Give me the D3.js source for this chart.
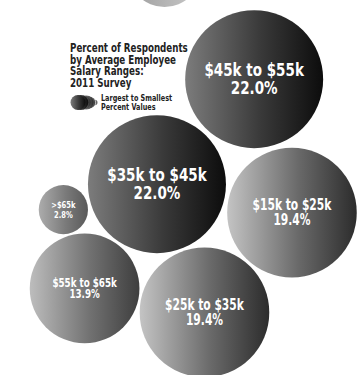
<!DOCTYPE html>
<html>
<head>
<meta charset="utf-8">
<script src="https://cdn.jsdelivr.net/npm/d3@7"></script>
<style>
  html, body { margin: 0; padding: 0; background: #fff; }
  svg { display: block; }
  text { font-family: "DejaVu Sans", sans-serif; font-weight: bold; }
</style>
</head>
<body>
<div id="chart"></div>
<script>
// Salary ranges and the share of respondents in each
const categories = ["Under $15k", "$45k to $55k", "$35k to $45k", "$15k to $25k", ">$65k", "$55k to $65k", "$25k to $35k"];
const percents   = [6.2, 22.0, 22.0, 19.4, 2.8, 13.9, 19.4];

const titleLines  = ["Percent of Respondents", "by Average Employee", "Salary Ranges:", "2011 Survey"];
const legendLines = ["Largest to Smallest", "Percent Values"];

// Bubble arrangement, in layout units (0..1 across and down the page)
const layout = [
  [0.457, -0.079], [0.706, 0.211], [0.436, 0.491], [0.811, 0.567],
  [0.176, 0.559], [0.235, 0.769], [0.568, 0.833]
];

const width = 360, height = 375;

const svg = d3.select("#chart").append("svg")
  .attr("width", width).attr("height", height);

const x = d3.scaleLinear().domain([0, 1]).range([0, width]);
const y = d3.scaleLinear().domain([0, 1]).range([0, height]);
const r = d3.scaleSqrt().domain([0, 22]).range([0, 69]);

// Shading: bigger shares get darker gradients
const leftShade  = d3.scaleLinear().domain([2.8, 6.2, 13.9, 19.4, 22]).range(["#acacac", "#9c9c9c", "#bdbdbd", "#c4c4c4", "#7c7c7c"]).clamp(true);
const rightShade = d3.scaleLinear().domain([2.8, 6.2, 13.9, 19.4, 22]).range(["#595959", "#c8c8c8", "#3e3e3e", "#2c2c2c", "#0c0c0c"]).clamp(true);

// Label type size, line spacing and horizontal compression by share
const fontSize = d3.scaleLinear().domain([2.8, 13.9, 19.4, 22]).range([9, 12.5, 15.5, 18]);
const lineGap  = d3.scaleLinear().domain([2.8, 13.9, 19.4, 22]).range([10, 11, 15, 18]);
const squeezeBy = d3.scaleLinear().domain([2.8, 13.9, 19.4, 22]).range([0.75, 0.70, 0.69, 0.75]);

const data = categories.map((c, i) => ({ name: c, value: percents[i], pos: layout[i], id: "g" + i }));

const defs = svg.append("defs");
data.forEach(d => {
  const g = defs.append("linearGradient").attr("id", d.id)
    .attr("x1", "0%").attr("x2", "100%").attr("y1", "0%").attr("y2", "0%");
  g.append("stop").attr("offset", "0%").attr("stop-color", leftShade(d.value));
  g.append("stop").attr("offset", "55%").attr("stop-color", d3.interpolateRgb(leftShade(d.value), rightShade(d.value))(0.6));
  g.append("stop").attr("offset", "100%").attr("stop-color", rightShade(d.value));
});

// Compress each text line horizontally around its anchor
function condense(sel, k) {
  sel.each(function() {
    const len = this.getComputedTextLength();
    d3.select(this).attr("textLength", len * k).attr("lengthAdjust", "spacingAndGlyphs");
  });
}

const bubbles = svg.append("g").selectAll("g.bubble").data(data).join("g")
  .attr("class", "bubble")
  .attr("transform", d => `translate(${x(d.pos[0])},${y(d.pos[1])})`);

bubbles.append("circle")
  .attr("r", d => r(d.value))
  .attr("fill", d => `url(#${d.id})`);

// Labels for the bubbles whose centre sits on the page
const labelled = bubbles.filter(d => y(d.pos[1]) > 0);
labelled.each(function(d) {
  const gap = lineGap(d.value);
  const lines = [d.name, d3.format(".1f")(d.value) + "%"];
  d3.select(this).selectAll("text").data(lines).join("text")
    .attr("text-anchor", "middle")
    .attr("fill", "#fff")
    .attr("font-size", fontSize(d.value))
    .attr("x", 0)
    .attr("y", (t, i) => i === 0 ? -gap * 0.17 : gap * 0.83)
    .text(t => t)
    .call(condense, squeezeBy(d.value));
});

// Title block
const title = svg.append("g").attr("transform", `translate(70,52)`);
title.selectAll("text").data(titleLines).join("text")
  .attr("x", 0).attr("y", (d, i) => i * 11.5)
  .attr("font-size", 13)
  .attr("fill", "#222")
  .text(d => d)
  .call(condense, 0.67);

// Legend: bubbles ordered from largest to smallest
const legend = svg.append("g").attr("transform", `translate(78,102.5)`);
const sorted = data.slice().sort((a, b) => d3.descending(a.value, b.value));
const lr = d3.scaleSqrt().domain([0, 22]).range([0, 7.5]);
legend.selectAll("circle").data(sorted.slice().reverse()).join("circle")
  .attr("cx", d => sorted.indexOf(d) * 2.8)
  .attr("r", d => lr(d.value))
  .attr("fill", d => `url(#${d.id})`);

legend.selectAll("text").data(legendLines).join("text")
  .attr("x", 23).attr("y", (d, i) => -1.5 + i * 9)
  .attr("font-size", 9.5)
  .attr("fill", "#222")
  .text(d => d)
  .call(condense, 0.68);
</script>
</body>
</html>
